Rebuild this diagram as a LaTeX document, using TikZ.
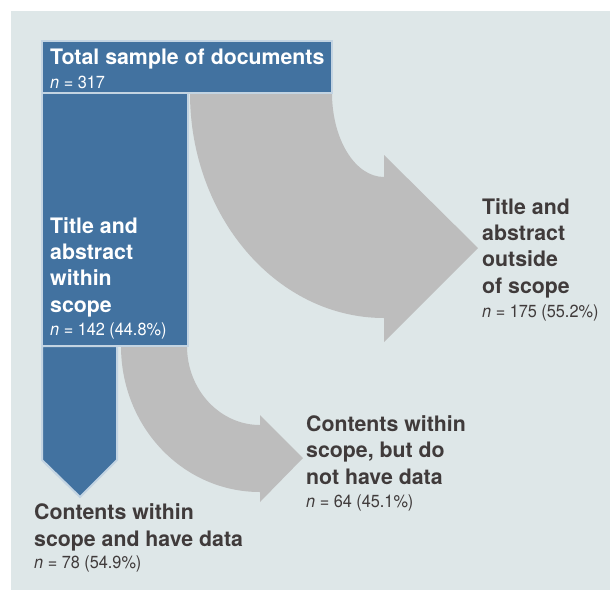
\documentclass[tikz,border=0pt]{standalone}
\usepackage{fontspec}
\setmainfont{TeX Gyre Heros}
\newfontfamily\narrowfont[FakeStretch=0.93]{TeX Gyre Heros}
\definecolor{bgblue}{HTML}{DEE7E8}
\definecolor{boxblue}{HTML}{4272A0}
\definecolor{edgeblue}{HTML}{C3D4E2}
\definecolor{flowgrey}{HTML}{BDBDBD}
\definecolor{labeltext}{HTML}{403B3B}
\begin{document}
\begin{tikzpicture}[x=1pt, y=-1pt,
        heading/.style={anchor=base west, inner sep=0pt, align=left, font=\bfseries\fontsize{21.3}{26.3}\selectfont},
        count/.style={anchor=base west, inner sep=0pt, font=\narrowfont\fontsize{17.5}{20}\selectfont},
        bluebox/.style={fill=boxblue, draw=edgeblue, line width=2pt},
        greyflow/.style={fill=flowgrey}]
        \useasboundingbox (0, 0) rectangle (610, 590);
        \fill[white] (0, 0) rectangle (610, 590);
        \fill[bgblue] (11, 11) rectangle (610, 590);
        % grey flows leaving the sample
        \fill[greyflow] (190, 93) -- (332, 93) .. controls (332, 139) and (355, 177) .. (384, 177)
            -- (384, 155) -- (478, 248) -- (384, 342) -- (384, 318)
            .. controls (277, 318) and (190, 217) .. (190, 93) -- cycle;
        \fill[greyflow] (121, 346) -- (187, 346) .. controls (187, 390) and (220, 425) .. (260, 425)
            -- (260, 415) -- (303, 458) -- (260, 502) -- (260, 492)
            .. controls (183, 492) and (121, 427) .. (121, 346) -- cycle;
        % blue boxes
        \draw[bluebox] (42, 41) rectangle (332, 93);
        \draw[bluebox] (42, 93) rectangle (188, 346);
        \draw[bluebox] (42, 346) -- (117, 346) -- (117, 460) -- (80, 497) -- (42, 460) -- cycle;
        % labels (base = last line)
        \node[heading, white] (total) at (50, 64) {Total sample of documents};
        \node[count, white] (totaln) at (50, 88) {{\itshape n} = 317};
        \node[heading, white] (within) at (50, 312) {Title and\\abstract\\within\\scope};
        \node[count, white] (withinn) at (50, 335) {{\itshape n} = 142 (44.8\%)};
        \node[heading, labeltext] (outside) at (482, 293) {Title and\\abstract\\outside\\of scope};
        \node[count, labeltext] (outsiden) at (482, 317) {{\itshape n} = 175 (55.2\%)};
        \node[heading, labeltext] (nodata) at (306, 484) {Contents within\\scope, but do\\not have data};
        \node[count, labeltext] (nodatan) at (306, 507) {{\itshape n} = 64 (45.1\%)};
        \node[heading, labeltext] (hasdata) at (34, 546) {Contents within\\scope and have data};
        \node[count, labeltext] (hasdatan) at (34, 568) {{\itshape n} = 78 (54.9\%)};
\end{tikzpicture}
\end{document}
